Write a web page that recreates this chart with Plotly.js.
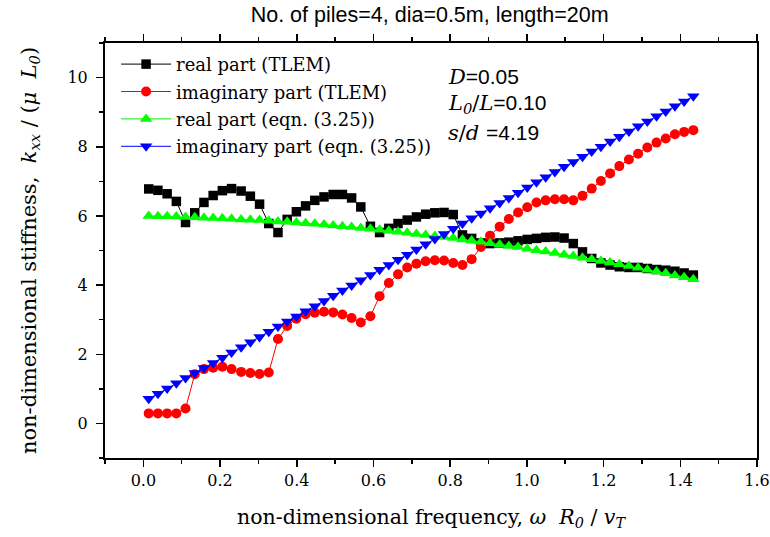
<!DOCTYPE html>
<html>
<head>
<meta charset="utf-8">
<script src="https://cdn.plot.ly/plotly-3.0.1.min.js"></script>
<style>html,body{margin:0;padding:0;background:#fff;}#chart{width:770px;height:537px;}</style>
</head>
<body>
<div id="chart"></div>
<script>
// non-dimensional frequency
const freq = [0.014,0.038,0.062,0.086,0.110,0.134,0.158,0.182,0.206,0.230,
              0.255,0.279,0.303,0.327,0.351,0.375,0.399,0.423,0.447,0.471,
              0.495,0.519,0.543,0.567,0.592,0.616,0.640,0.664,0.688,0.712,
              0.736,0.760,0.784,0.808,0.832,0.856,0.880,0.904,0.929,0.953,
              0.977,1.001,1.025,1.049,1.073,1.097,1.121,1.145,1.169,1.193,
              1.217,1.241,1.266,1.290,1.314,1.338,1.362,1.386,1.410,1.434];
// real part (TLEM)
const realTLEM = [6.78,6.74,6.64,6.42,5.81,6.09,6.39,6.59,6.73,6.79,
                  6.72,6.57,6.34,5.78,5.52,5.90,6.12,6.29,6.45,6.55,
                  6.62,6.62,6.52,6.26,5.70,5.52,5.64,5.78,5.88,5.97,
                  6.05,6.09,6.10,6.04,5.45,5.35,5.22,5.20,5.22,5.24,
                  5.28,5.32,5.35,5.38,5.39,5.36,5.20,4.96,4.77,4.64,
                  4.58,4.53,4.51,4.51,4.48,4.45,4.43,4.40,4.35,4.29];
// imaginary part (TLEM)
const imagTLEM = [0.29,0.29,0.29,0.29,0.43,1.42,1.57,1.61,1.64,1.57,
                  1.49,1.46,1.43,1.47,2.44,2.82,3.03,3.16,3.20,3.23,
                  3.21,3.15,3.05,2.92,3.10,3.68,4.06,4.31,4.51,4.62,
                  4.69,4.72,4.71,4.64,4.58,4.75,5.10,5.43,5.69,5.91,
                  6.10,6.25,6.39,6.45,6.48,6.48,6.45,6.58,6.79,7.01,
                  7.23,7.44,7.63,7.80,7.98,8.12,8.24,8.36,8.43,8.48];
// real part (eqn. (3.25))
const realEqn = [6.00,5.99,5.99,5.98,5.97,5.96,5.95,5.94,5.93,5.92,
                 5.90,5.89,5.88,5.86,5.84,5.83,5.81,5.79,5.77,5.75,
                 5.72,5.70,5.68,5.65,5.63,5.60,5.57,5.54,5.51,5.48,
                 5.45,5.42,5.39,5.36,5.32,5.29,5.25,5.21,5.17,5.13,
                 5.10,5.05,5.01,4.97,4.93,4.88,4.84,4.79,4.75,4.70,
                 4.65,4.60,4.55,4.50,4.44,4.39,4.34,4.28,4.23,4.17];
// imaginary part (eqn. (3.25))
const imagEqn = [0.71,0.86,1.01,1.16,1.31,1.46,1.60,1.75,1.90,2.05,
                 2.20,2.35,2.50,2.65,2.80,2.95,3.09,3.24,3.39,3.54,
                 3.69,3.84,3.99,4.14,4.29,4.44,4.58,4.73,4.88,5.03,
                 5.18,5.33,5.48,5.63,5.78,5.93,6.07,6.22,6.37,6.52,
                 6.67,6.82,6.97,7.12,7.27,7.42,7.56,7.71,7.86,8.00,
                 8.15,8.29,8.44,8.59,8.73,8.88,9.02,9.17,9.31,9.46];

const seriesNames = ['real part (TLEM)','imaginary part (TLEM)','real part (eqn. (3.25))','imaginary part (eqn. (3.25))'];
const xTickVals = [0.0,0.2,0.4,0.6,0.8,1.0,1.2,1.4,1.6];
const xTickText = ['0.0','0.2','0.4','0.6','0.8','1.0','1.2','1.4','1.6'];
const yTickVals = [0,2,4,6,8,10];
const yTickText = ['0','2','4','6','8','10'];

const serif = 'DejaVu Serif, Liberation Serif, serif';
const sans = 'Liberation Sans, Arial, sans-serif';

const traces = [
  {x: freq, y: realTLEM, name: seriesNames[0], legendgroup:'a', mode:'lines+markers',
   line:{color:'#000000', width:1}, marker:{symbol:'square', size:9.5, color:'#000000'}},
  {x: freq, y: imagTLEM, name: seriesNames[1], legendgroup:'b', mode:'lines+markers',
   line:{color:'#ff0000', width:1}, marker:{symbol:'circle', size:10, color:'#ff0000'}},
  {x: freq, y: realEqn, name: seriesNames[2], legendgroup:'c', mode:'lines+markers',
   line:{color:'#00ee00', width:1}, marker:{symbol:'triangle-up', size:11, color:'#00ff00'}},
  {x: freq, y: imagEqn, name: seriesNames[3], legendgroup:'d', mode:'lines+markers',
   line:{color:'#0000ff', width:1}, marker:{symbol:'triangle-down', size:11, color:'#0000ff'}}
];

const sp = (t) => '<span style="font-family:DejaVu Serif">' + t + '</span>';

const layout = {
  width: 770, height: 537,
  margin: {l:105, r:13, t:43, b:79},
  paper_bgcolor:'#ffffff', plot_bgcolor:'#ffffff',
  showlegend: true,
  title: {text:'No. of piles=4, dia=0.5m, length=20m', font:{family:sans, size:21.5, color:'#000'},
          x:0.558, xanchor:'center', y:0.973, yanchor:'middle'},
  xaxis: {
    range:[-0.1,1.6], tickvals:xTickVals, ticktext:xTickText,
    showgrid:false, zeroline:false, showline:true, linecolor:'#000', linewidth:2,
    mirror:'ticks', ticks:'outside', ticklen:7, tickwidth:1.5, tickcolor:'#000',
    minor:{dtick:0.1, tick0:0, ticks:'outside', ticklen:4, tickwidth:1.5, tickcolor:'#000'},
    tickfont:{family:serif, size:16, color:'#000'},
    title:{text:'non-dimensional frequency, <i>ω  R</i><sub><i>0</i></sub> / <i>v</i><sub><i>T</i></sub>',
           font:{family:serif, size:20.5, color:'#000'}, standoff:20}
  },
  yaxis: {
    range:[-1,11], tickvals:yTickVals, ticktext:yTickText,
    showgrid:false, zeroline:false, showline:true, linecolor:'#000', linewidth:2,
    mirror:true, ticks:'outside', ticklen:7, tickwidth:1.5, tickcolor:'#000',
    ticklabelstandoff:5,
    minor:{dtick:1, tick0:0, ticks:'outside', ticklen:4, tickwidth:1.5, tickcolor:'#000'},
    tickfont:{family:serif, size:16, color:'#000'},
    title:{text:'non-dimensional stiffness,  <i>k</i><sub><i>xx</i></sub> / (<i>μ  L</i><sub><i>0</i></sub>)',
           font:{family:serif, size:21, color:'#000'}, standoff:25}
  },
  legend: {x:0.017, y:0.993, xanchor:'left', yanchor:'top', bgcolor:'rgba(0,0,0,0)',
           font:{family:serif, size:18, color:'#000'}, tracegroupgap:1, itemwidth:50},
  annotations: [
    {xref:'paper', yref:'paper', x:0.523, y:0.919, xanchor:'left', yanchor:'middle', showarrow:false,
     text: sp('<i>D</i>') + '=0.05', font:{family:sans, size:21, color:'#000'}},
    {xref:'paper', yref:'paper', x:0.523, y:0.852, xanchor:'left', yanchor:'middle', showarrow:false,
     text: sp('<i>L</i><sub><i>0</i></sub>/<i>L</i>') + '=0.10', font:{family:sans, size:21, color:'#000'}},
    {xref:'paper', yref:'paper', x:0.523, y:0.782, xanchor:'left', yanchor:'middle', showarrow:false,
     text: sp('<i>s</i>/<i>d</i> ') + '=4.19', font:{family:sans, size:21, color:'#000'}}
  ]
};

Plotly.newPlot('chart', traces, layout, {displayModeBar:false, staticPlot:true});
</script>
</body>
</html>
